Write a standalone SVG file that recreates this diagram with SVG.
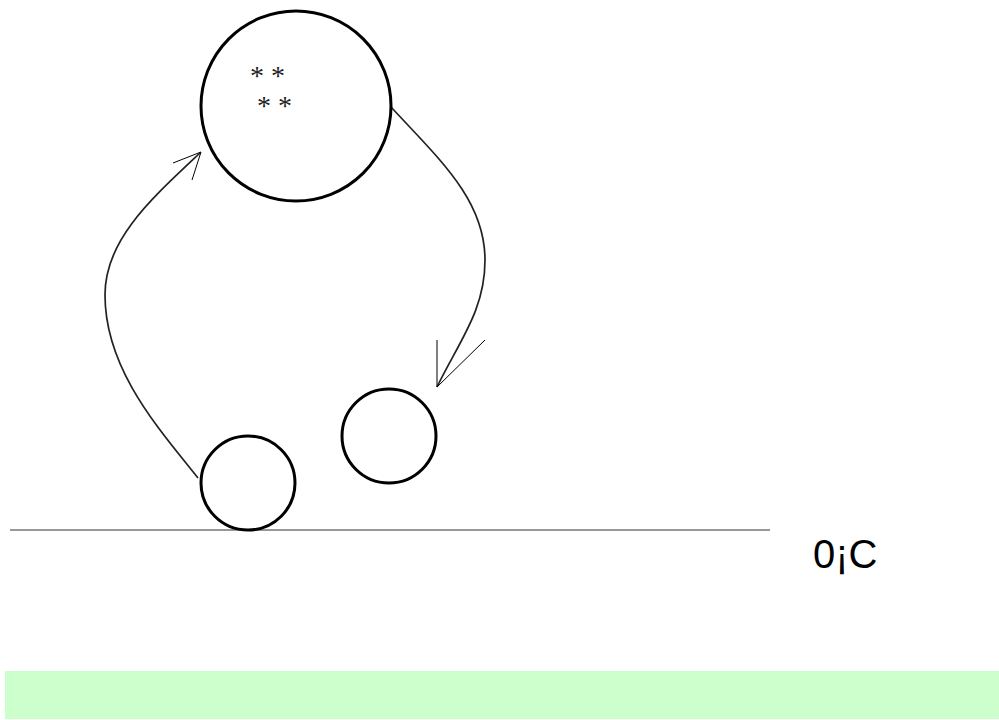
<svg xmlns="http://www.w3.org/2000/svg" width="999" height="720" viewBox="0 0 999 720">
<style>
.node{fill:none;stroke:#000;stroke-width:3}
.conn{fill:none;stroke:#222;stroke-width:1.7}
.head{fill:none;stroke:#000;stroke-width:1}
.ast{font-family:"Liberation Serif",serif;font-size:28px;fill:#222}
.lbl{font-family:"Liberation Sans",Arial,sans-serif;font-size:40px;fill:#000}
</style>
<rect x="0" y="0" width="999" height="720" fill="#fff"/>
<rect x="5" y="671" width="994" height="48" fill="#ccffcc"/>
<line x1="10" y1="530" x2="770" y2="530" stroke="#333" stroke-width="1"/>
<g id="connectors">
<path class="conn" d="M198,478 C160,430 105,370 105,295 C105,240 150,200 200,153"/>
<path class="head" d="M173,163 L201,152 L192,180"/>
<path class="conn" d="M391,107 C440,160 485,200 485,260 C485,310 460,340 437,387"/>
<path class="head" d="M437,340 L437,387 L485,340"/>
</g>
<g id="top">
<circle class="node" cx="296" cy="106" r="95"/>
<text class="ast" x="250" y="85">* *</text>
<text class="ast" x="257" y="115">* *</text>
</g>
<g id="left">
<circle class="node" cx="248" cy="483" r="47"/>
</g>
<g id="right">
<circle class="node" cx="389" cy="436" r="47"/>
</g>
<text class="lbl" x="813" y="568">0¡C</text>
</svg>
